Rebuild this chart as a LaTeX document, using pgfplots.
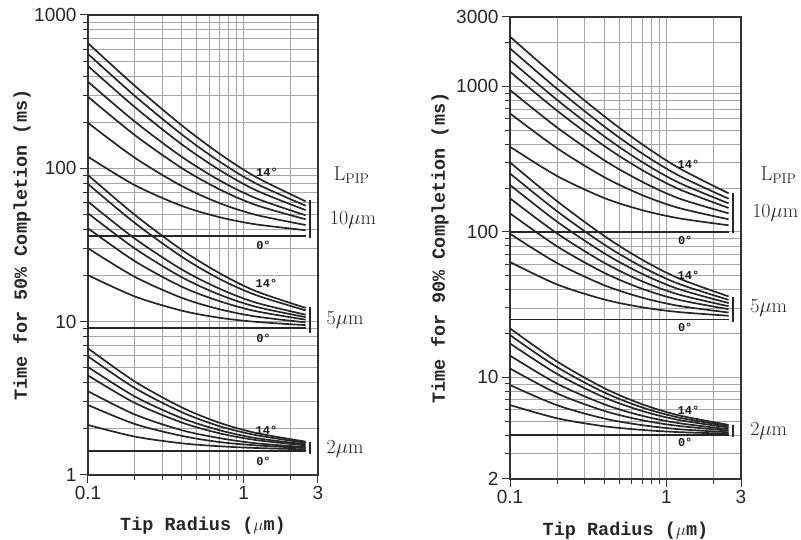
\documentclass[border=0pt]{standalone}
\usepackage{pgfplots}
\pgfplotsset{compat=1.18}
\usepackage{pgfplotstable}
\usepackage{fontspec}
\newfontfamily\sansf{Liberation Sans}
\newfontfamily\monof{Liberation Mono}

% 50% completion: c1..c7 = 14,12,...,2 deg, c0 = 0 deg
\pgfplotstableread{
r   c1    c2    c3    c4    c5    c6    c7    c0
0.1 654   557   465   367   293   198   119   36.2
0.2 345.1 296.6 250.6 201.6 164.6 117.1 77.6  36.2
0.4 190.7 166.4 143.4 118.9 100.4 76.7  56.9  36.2
0.7 124.5 110.6 97.5  83.5  72.9  59.3  48.0  36.2
1.2 87.7  79.6  71.9  63.8  57.6  49.7  43.1  36.2
2.5 60.9  57.0  53.4  49.4  46.5  42.7  39.5  36.2
}\fiftyTen
\pgfplotstableread{
r   c1    c2    c3    c4    c5    c6    c7    c0
0.1 90.4  79.0  60.6  50.9  40.6  30.1  20.1  9.05
0.2 49.7  44.0  34.8  30.0  24.8  19.6  14.6  9.05
0.4 29.4  26.5  21.9  19.5  16.9  14.3  11.8  9.05
0.7 20.7  19.0  16.4  15.0  13.6  12.05 10.6  9.05
1.2 15.8  14.9  13.3  12.5  11.7  10.8  9.97  9.05
2.5 12.3  11.85 11.1  10.7  10.3  9.89  9.49  9.05
}\fiftyFive
\pgfplotstableread{
r   c1    c2    c3    c4    c5    c6    c7    c0
0.1 6.70  5.94  5.06  4.46  3.52  2.86  2.12  1.44
0.2 4.07  3.69  3.25  2.95  2.48  2.15  1.78  1.44
0.4 2.76  2.57  2.35  2.20  1.96  1.80  1.61  1.44
0.7 2.19  2.08  1.96  1.87  1.74  1.64  1.54  1.44
1.2 1.88  1.82  1.74  1.69  1.61  1.56  1.50  1.44
2.5 1.65  1.62  1.585 1.56  1.52  1.50  1.47  1.44
}\fiftyTwo

% 90% completion
\pgfplotstableread{
r   c1    c2    c3    c4    c5    c6    c7    c0
0.1 2197  1824  1517  1262  944   652   385   100
0.2 1148  962   808   681   522   376   242   100
0.4 624   531   454   390   311   238   171   100
0.7 400   346   302   266   221   179   141   100
1.2 275   244   218   197   170   146   124   100
2.5 184   169   157   146   134   122   111   100
}\ninetyTen
\pgfplotstableread{
r   c1    c2    c3    c4    c5    c6    c7    c0
0.1 300   252   210   170   134   97    62    25
0.2 162.5 138.5 117.5 97.5  79.5  61    43.5  25
0.4 93.8  81.8  71.3  61.3  52.3  43    34.3  25
0.7 64.3  57.4  51.4  45.7  40.6  35.3  30.3  25
1.2 47.9  43.9  40.4  37.1  34.1  31    28.1  25
2.5 36.0  34.1  32.4  30.8  29.4  27.9  26.5  25
}\ninetyFive
\pgfplotstableread{
r   c1    c2    c3    c4    c5    c6    c7    c0
0.1 21.7  19.5  17.1  14.1  11.5  8.85  6.45  4
0.2 12.85 11.75 10.55 9.05  7.75  6.43  5.23  4
0.4 8.43  7.88  7.28  6.53  5.88  5.21  4.61  4
0.7 6.53  6.21  5.87  5.44  5.07  4.69  4.35  4
1.2 5.48  5.29  5.09  4.84  4.63  4.40  4.20  4
2.5 4.71  4.62  4.52  4.40  4.30  4.19  4.10  4
}\ninetyTwo

\pgfplotsset{every axis/.append style={
    xmode=log, ymode=log, scale only axis,
    xmin=0.1, xmax=3,
    xtick={0.1,1,3}, xticklabels={0.1,1,3},
    minor xtick={0.2,0.3,0.4,0.5,0.6,0.7,0.8,0.9,2},
    grid=both,
    major grid style={gray!70, line width=0.75pt},
    minor grid style={gray!70, line width=0.75pt},
    axis line style={black!80, line width=1.4pt},
    tick align=outside, xtick pos=bottom, ytick pos=left,
    major tick length=8pt, minor tick length=5pt,
    tick style={black!80, line width=1pt},
    ticklabel style={font=\sansf\fontsize{19}{19}\selectfont, text=black!85},
    label style={font=\monof\bfseries\fontsize{18.5}{18.5}\selectfont, text=black!85},
    xlabel={Tip Radius ($\mu$m)},
    xlabel style={at={(axis description cs:0.5,-0.111)}, anchor=center},
    clip=false,
}}
\tikzset{
  tipcurve/.style={black!85, line width=1.7pt, smooth},
  tipbar/.style={black!85, line width=1.4pt},
  deg/.style={font=\monof\bfseries\fontsize{12}{12}\selectfont, text=black!90},
  lab/.style={font=\fontsize{20}{20}\selectfont, text=black!85},
}
\newcommand{\drawgroup}[1]{%
  \pgfplotsinvokeforeach{0,1,2,3,4,5,6,7}{\addplot[tipcurve, no markers] table[x=r,y=c##1]{#1};}}

\begin{document}
\begin{tikzpicture}
\useasboundingbox (-88pt,-65pt) rectangle (713pt,475pt);

\begin{axis}[at={(0pt,0pt)}, width=230pt, height=460pt,
    ymin=1, ymax=1000,
    ytick={1,10,100,1000}, yticklabels={1,10,100,1000},
    minor ytick={2,3,4,5,6,7,8,9,20,30,40,50,60,70,80,90,200,300,400,500,600,700,800,900},
    ylabel={Time for 50\% Completion (ms)},
    ylabel style={at={(axis description cs:-0.287,0.5)}, anchor=center}]
\drawgroup{\fiftyTen}
\drawgroup{\fiftyFive}
\drawgroup{\fiftyTwo}
\addplot[tipbar, no markers] coordinates {(2.67,62.2) (2.67,34.9)};
\addplot[tipbar, no markers] coordinates {(2.67,12.4) (2.67,8.46)};
\addplot[tipbar, no markers] coordinates {(2.67,1.65) (2.67,1.37)};
\node[deg] at (axis cs:1.41,94.6) {14°};
\node[deg] at (axis cs:1.34,31.6) {0°};
\node[deg] at (axis cs:1.40,17.8) {14°};
\node[deg] at (axis cs:1.34,7.78) {0°};
\node[deg] at (axis cs:1.40,1.96) {14°};
\node[deg] at (axis cs:1.34,1.22) {0°};
\node[lab] at (axis cs:4.94,90.4) {L$_{\mathrm{PIP}}$};
\node[lab] at (axis cs:5.03,46.0) {10$\mu$m};
\node[lab] at (axis cs:4.48,10.2) {5$\mu$m};
\node[lab] at (axis cs:4.48,1.475) {2$\mu$m};
\end{axis}

\begin{axis}[at={(422pt,-4pt)}, width=231pt, height=462pt,
    ymin=2, ymax=3000,
    ytick={2,10,100,1000,3000}, yticklabels={2,10,100,1000,3000},
    minor ytick={3,4,5,6,7,8,9,20,30,40,50,60,70,80,90,200,300,400,500,600,700,800,900,2000},
    ylabel={Time for 90\% Completion (ms)},
    ylabel style={at={(axis description cs:-0.303,0.5)}, anchor=center}]
\drawgroup{\ninetyTen}
\drawgroup{\ninetyFive}
\drawgroup{\ninetyTwo}
\addplot[tipbar, no markers] coordinates {(2.67,184) (2.67,97.7)};
\addplot[tipbar, no markers] coordinates {(2.67,35.9) (2.67,24.1)};
\addplot[tipbar, no markers] coordinates {(2.67,4.70) (2.67,3.91)};
\node[deg] at (axis cs:1.385,291) {14°};
\node[deg] at (axis cs:1.32,87.8) {0°};
\node[deg] at (axis cs:1.385,50.5) {14°};
\node[deg] at (axis cs:1.32,21.9) {0°};
\node[deg] at (axis cs:1.385,5.96) {14°};
\node[deg] at (axis cs:1.32,3.56) {0°};
\node[lab] at (axis cs:5.22,245) {L$_{\mathrm{PIP}}$};
\node[lab] at (axis cs:4.97,134) {10$\mu$m};
\node[lab] at (axis cs:4.51,29.8) {5$\mu$m};
\node[lab] at (axis cs:4.51,4.30) {2$\mu$m};
\end{axis}
\end{tikzpicture}
\end{document}
